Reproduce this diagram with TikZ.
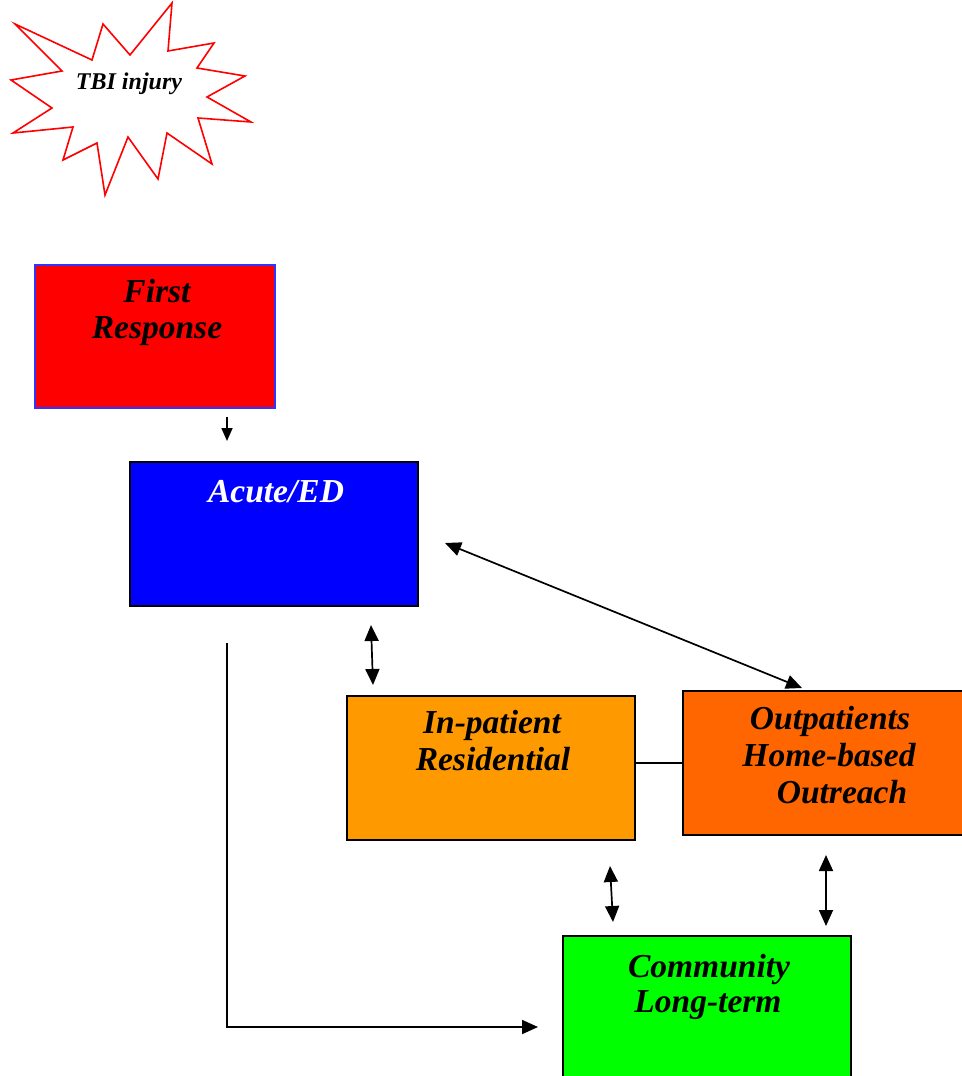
\documentclass[tikz,border=0pt]{standalone}
\usepackage{fontspec}
\setmainfont{Liberation Serif}
\usetikzlibrary{arrows.meta}
\begin{document}
\begin{tikzpicture}[x=1pt,y=-1pt,
  box/.style={draw=black,line width=2pt,inner sep=0pt},
  lbl/.style={font=\fontsize{33.5}{37}\selectfont\bfseries\itshape,anchor=base,inner sep=0pt},
  conn/.style={line width=1.7pt},
  tip/.style={-{Triangle[length=16pt,width=14pt]}},
  dbl/.style={conn,{Triangle[length=16pt,width=14pt]}-{Triangle[length=16pt,width=14pt]}}]
\useasboundingbox (0,0) rectangle (961,1076);
% starburst
\draw[red,line width=1.6pt] plot coordinates {(15,24) (92,60) (103,24) (130,55) (172,3) (168,51) (214,43) (197,68) (245,76) (207,97) (251,122) (198,118) (212,164) (167,133) (158,179) (128,137) (105,195) (97,143) (63,160) (73,127) (13,133) (52,108) (11,80) (62,71)} -- cycle;
\node[font=\fontsize{24}{27}\selectfont\bfseries\itshape,anchor=base,inner sep=0pt] (tbi) at (129,89) {TBI injury};
% boxes
\node[box,fill=red,draw={rgb,255:red,51;green,51;blue,255},minimum width=240pt,minimum height=143pt] (fr) at (155,336.5) {};
\node[box,fill={rgb,255:red,0;green,0;blue,255},minimum width=288pt,minimum height=144pt] (ac) at (274,534) {};
\node[box,fill={rgb,255:red,255;green,153;blue,0},minimum width=288pt,minimum height=144pt] (ip) at (491,768) {};
\node[box,fill={rgb,255:red,255;green,102;blue,0},minimum width=288pt,minimum height=144pt] (op) at (827,763) {};
\node[box,fill={rgb,255:red,0;green,255;blue,0},minimum width=288pt,minimum height=144pt] (cm) at (707,1008) {};
% labels
\node[lbl] (fr1) at (157,302) {First};
\node[lbl] (fr2) at (157,338) {Response};
\node[lbl,text=white] (ac1) at (276,502) {Acute/ED};
\node[lbl] (ip1) at (492,733) {In-patient};
\node[lbl] (ip2) at (493,770) {Residential};
\node[lbl] (op1) at (830,729) {Outpatients};
\node[lbl] (op2) at (829,766) {Home-based};
\node[lbl] (op3) at (842,803) {Outreach};
\node[lbl] (cm1) at (709,977) {Community};
\node[lbl] (cm2) at (708,1012) {Long-term};
% connector end points
\coordinate (a1s) at (227,417);
\coordinate (a1e) at (227,441);
\coordinate (a2s) at (445,543);
\coordinate (a2e) at (802,688);
\coordinate (a3s) at (371,625);
\coordinate (a3e) at (373,685);
\coordinate (a4s) at (610,866);
\coordinate (a4e) at (613,922);
\coordinate (a5s) at (826,855);
\coordinate (a5e) at (826,926);
\coordinate (a6s) at (227,643);
\coordinate (a6e) at (538,1027);
% connectors
\draw[conn,-{Triangle[length=13pt,width=11pt]}] (a1s) -- (a1e);
\draw[dbl] (a2s) -- (a2e);
\draw[dbl] (a3s) -- (a3e);
\draw[conn] (ip.east |- op.west) -- (op.west);
\draw[dbl] (a4s) -- (a4e);
\draw[dbl] (a5s) -- (a5e);
\draw[conn,tip] (a6s) |- (a6e);
\end{tikzpicture}
\end{document}
